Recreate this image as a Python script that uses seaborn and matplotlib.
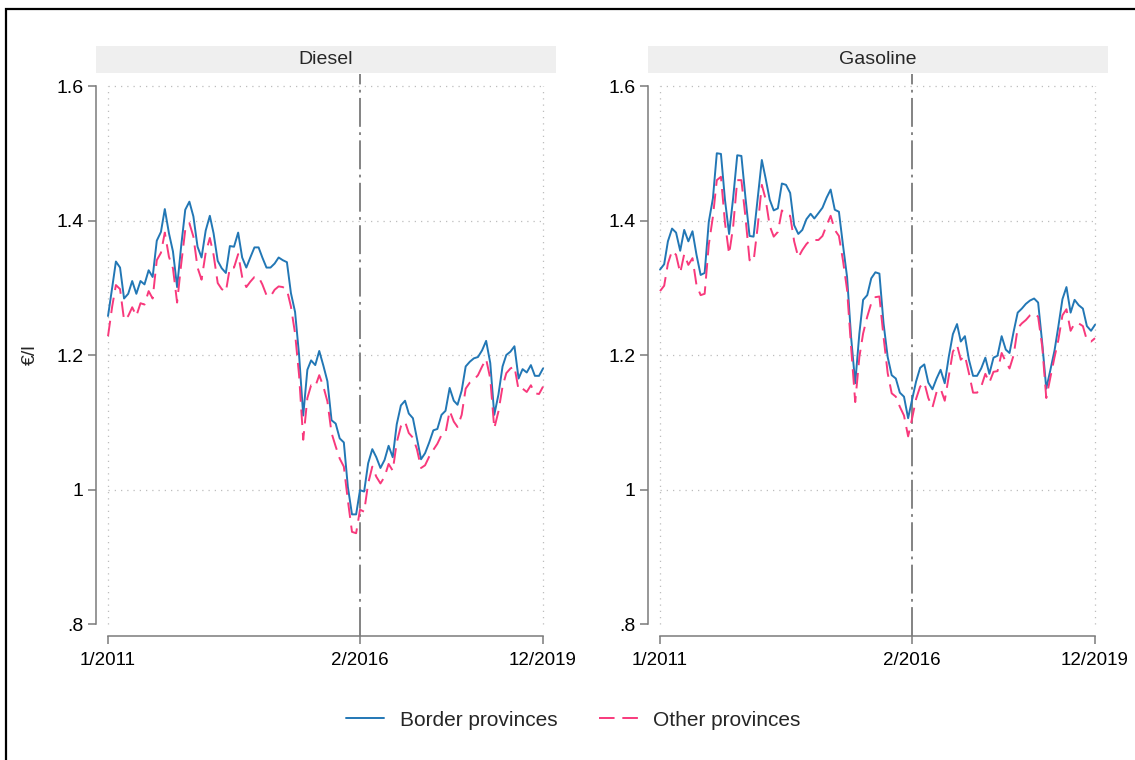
import numpy as np
import pandas as pd
import matplotlib
matplotlib.use('Agg')
import matplotlib.pyplot as plt
import matplotlib.dates as mdates
from matplotlib.patches import Rectangle
import seaborn as sns

# monthly prices, 1/2011 - 12/2019 (EUR per litre)
months = pd.date_range('2011-01-01', '2019-12-01', freq='MS')

diesel_border = [1.258, 1.300, 1.339, 1.330, 1.284, 1.291, 1.310, 1.291, 1.310, 1.305, 1.326, 1.316,
                 1.370, 1.383, 1.417, 1.381, 1.354, 1.301, 1.361, 1.416, 1.428, 1.406, 1.361, 1.345,
                 1.385, 1.407, 1.381, 1.340, 1.329, 1.322, 1.362, 1.361, 1.382, 1.345, 1.330, 1.345,
                 1.360, 1.360, 1.345, 1.330, 1.330, 1.336, 1.345, 1.341, 1.338, 1.292, 1.264, 1.200,
                 1.110, 1.178, 1.192, 1.185, 1.206, 1.184, 1.161, 1.103, 1.098, 1.076, 1.070, 1.004,
                 0.963, 0.963, 0.999, 0.997, 1.039, 1.060, 1.048, 1.032, 1.044, 1.065, 1.048, 1.097,
                 1.125, 1.132, 1.113, 1.106, 1.076, 1.045, 1.054, 1.070, 1.088, 1.090, 1.111, 1.117,
                 1.151, 1.132, 1.126, 1.147, 1.183, 1.190, 1.195, 1.197, 1.207, 1.221, 1.188, 1.111,
                 1.141, 1.183, 1.200, 1.205, 1.213, 1.165, 1.179, 1.174, 1.185, 1.169, 1.169, 1.180]
diesel_other = [1.228, 1.272, 1.304, 1.298, 1.252, 1.258, 1.271, 1.258, 1.277, 1.275, 1.295, 1.284,
                1.341, 1.352, 1.382, 1.346, 1.329, 1.278, 1.334, 1.386, 1.396, 1.376, 1.330, 1.312,
                1.352, 1.374, 1.349, 1.307, 1.298, 1.294, 1.330, 1.330, 1.350, 1.316, 1.301, 1.309,
                1.316, 1.316, 1.305, 1.289, 1.287, 1.297, 1.302, 1.301, 1.297, 1.272, 1.232, 1.170,
                1.074, 1.136, 1.155, 1.153, 1.170, 1.153, 1.131, 1.084, 1.064, 1.046, 1.034, 0.984,
                0.937, 0.935, 0.970, 0.967, 1.009, 1.034, 1.019, 1.009, 1.019, 1.038, 1.028, 1.070,
                1.094, 1.101, 1.084, 1.077, 1.060, 1.032, 1.036, 1.049, 1.059, 1.068, 1.081, 1.084,
                1.117, 1.101, 1.093, 1.111, 1.150, 1.159, 1.163, 1.170, 1.183, 1.194, 1.165, 1.091,
                1.116, 1.153, 1.173, 1.180, 1.183, 1.148, 1.150, 1.145, 1.155, 1.143, 1.142, 1.153]
gasoline_border = [1.327, 1.335, 1.369, 1.388, 1.382, 1.355, 1.386, 1.369, 1.384, 1.349, 1.319, 1.322,
                   1.398, 1.433, 1.500, 1.499, 1.431, 1.380, 1.433, 1.497, 1.496, 1.435, 1.377, 1.376,
                   1.433, 1.490, 1.463, 1.431, 1.415, 1.418, 1.455, 1.453, 1.441, 1.393, 1.380, 1.386,
                   1.402, 1.410, 1.403, 1.411, 1.419, 1.434, 1.446, 1.416, 1.413, 1.364, 1.316, 1.227,
                   1.158, 1.232, 1.282, 1.289, 1.314, 1.323, 1.321, 1.247, 1.197, 1.170, 1.165, 1.144,
                   1.138, 1.106, 1.133, 1.161, 1.181, 1.186, 1.159, 1.149, 1.165, 1.178, 1.158, 1.197,
                   1.231, 1.246, 1.220, 1.228, 1.193, 1.169, 1.169, 1.180, 1.196, 1.172, 1.196, 1.199,
                   1.228, 1.208, 1.203, 1.235, 1.263, 1.269, 1.276, 1.281, 1.284, 1.278, 1.217, 1.150,
                   1.178, 1.207, 1.242, 1.283, 1.301, 1.263, 1.282, 1.274, 1.269, 1.243, 1.236, 1.245]
gasoline_other = [1.295, 1.303, 1.336, 1.355, 1.349, 1.322, 1.350, 1.334, 1.344, 1.304, 1.289, 1.291,
                  1.364, 1.406, 1.460, 1.465, 1.397, 1.350, 1.390, 1.460, 1.460, 1.406, 1.341, 1.339,
                  1.391, 1.453, 1.432, 1.392, 1.376, 1.383, 1.415, 1.408, 1.407, 1.369, 1.345, 1.356,
                  1.365, 1.371, 1.371, 1.371, 1.377, 1.393, 1.407, 1.386, 1.377, 1.341, 1.297, 1.212,
                  1.130, 1.197, 1.232, 1.257, 1.277, 1.286, 1.287, 1.227, 1.173, 1.143, 1.138, 1.123,
                  1.110, 1.079, 1.105, 1.135, 1.153, 1.159, 1.136, 1.122, 1.145, 1.150, 1.132, 1.168,
                  1.205, 1.215, 1.193, 1.199, 1.173, 1.144, 1.144, 1.153, 1.172, 1.159, 1.175, 1.176,
                  1.203, 1.190, 1.180, 1.200, 1.240, 1.247, 1.252, 1.259, 1.262, 1.257, 1.212, 1.136,
                  1.167, 1.197, 1.222, 1.259, 1.268, 1.236, 1.247, 1.247, 1.243, 1.222, 1.220, 1.225]

fuels = ['Diesel', 'Gasoline']
groups = ['Border provinces', 'Other provinces']
series = {('Diesel', groups[0]): diesel_border, ('Diesel', groups[1]): diesel_other,
          ('Gasoline', groups[0]): gasoline_border, ('Gasoline', groups[1]): gasoline_other}

rows = []
for (fuel, grp), vals in series.items():
    rows.append(pd.DataFrame({'date': months, 'price': vals, 'fuel': fuel, 'group': grp}))
df = pd.concat(rows, ignore_index=True)

break_date = pd.Timestamp('2016-03-01')  # position of the "2/2016" marker
xtick_dates = [months[0], break_date, months[-1]]
xtick_labels = ['1/2011', '2/2016', '12/2019']
yticks = [0.8, 1.0, 1.2, 1.4, 1.6]
ytick_labels = ['.8', '1', '1.2', '1.4', '1.6']

palette = {groups[0]: '#2277b5', groups[1]: '#f8397c'}
dashes = {groups[0]: '', groups[1]: (8, 4)}

sns.set_theme(style='white')
plt.rcParams['font.family'] = ['Liberation Sans', 'DejaVu Sans']

W, H = 1135, 760
fig = plt.figure(figsize=(W / 100, H / 100), dpi=100)

# outer frame
fig.patches.append(Rectangle((6 / W, -0.1), 2, 1.1 - 9 / H, transform=fig.transFigure,
                             fill=False, edgecolor='black', linewidth=1.6))

lefts = [96, 648]
axes = []
for left, fuel in zip(lefts, fuels):
    ax = fig.add_axes([left / W, 1 - 636 / H, 460 / W, (636 - 74) / H])
    axes.append(ax)
    sub = df[df['fuel'] == fuel]
    sns.lineplot(data=sub, x='date', y='price', hue='group', style='group',
                 palette=palette, dashes=dashes, linewidth=1.4, ax=ax,
                 legend=(fuel == 'Diesel'), zorder=3)

    ax.set_xlim(months[0] - pd.Timedelta(days=90), months[-1] + pd.Timedelta(days=97))
    ax.set_ylim(0.8 - 12 / 672.5, 1.6 + 12 / 672.5)

    # dotted grid
    ax.hlines([1.0, 1.2, 1.4, 1.6], months[0], months[-1], color='#bdbdbd',
              linewidth=0.9, linestyles=(0, (1, 4)), zorder=1)
    ax.vlines([months[0], months[-1]], 0.8, 1.6, color='#bdbdbd',
              linewidth=0.9, linestyles=(0, (1, 4)), zorder=1)
    ax.axvline(break_date, color='#7a7a7a', linewidth=1.3,
               linestyle=(0, (16, 3, 1.5, 3)), zorder=2)

    ax.set_yticks(yticks)
    ax.set_yticklabels(ytick_labels, fontsize=14)
    ax.set_xticks(xtick_dates)
    ax.set_xticklabels(xtick_labels, fontsize=13.5)
    ax.tick_params(axis='both', direction='out', length=5.5, width=1.1,
                   color='#7a7a7a', labelcolor='black')
    ax.tick_params(axis='y', pad=3.5, left=True)
    ax.tick_params(axis='x', pad=6, bottom=True)
    ax.set_xlabel('')
    ax.set_ylabel('')

    for s in ['top', 'right']:
        ax.spines[s].set_visible(False)
    for s in ['left', 'bottom']:
        ax.spines[s].set_color('#7a7a7a')
        ax.spines[s].set_linewidth(1.1)
    ax.spines['left'].set_bounds(0.8, 1.6)
    ax.spines['bottom'].set_bounds(mdates.date2num(months[0]), mdates.date2num(months[-1]))
    ax.patch.set_alpha(0)

    # facet strip
    fig.patches.append(Rectangle((left / W, 1 - 73 / H), 460 / W, 27 / H,
                                 transform=fig.transFigure, facecolor='#efefef',
                                 edgecolor='none'))
    fig.text((left + 230) / W, 1 - 60 / H, fuel, ha='center', va='center', fontsize=14)

fig.text(30 / W, 1 - 355 / H, '€/l', rotation=90, ha='center', va='center', fontsize=14)

handles, labels = axes[0].get_legend_handles_labels()
axes[0].get_legend().remove()
fig.legend(handles, labels, loc='center', bbox_to_anchor=(573 / W, 1 - 720 / H), ncol=2,
           frameon=False, fontsize=15, handlelength=1.85, handletextpad=0.75,
           columnspacing=2.0)

fig.savefig('out.png', dpi=100)
